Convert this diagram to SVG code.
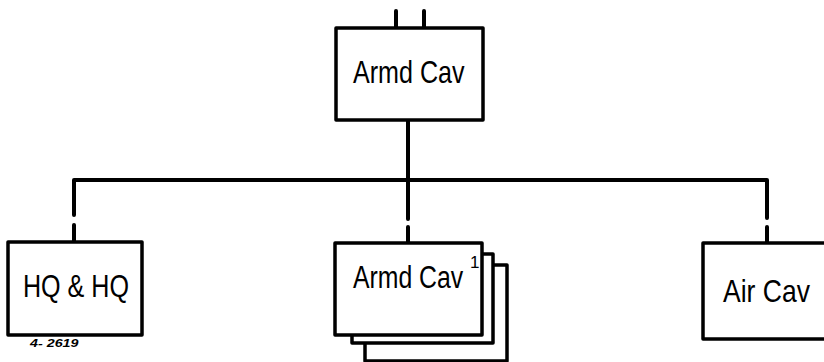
<svg xmlns="http://www.w3.org/2000/svg" width="824" height="362" viewBox="0 0 824 362">
<style>
.box{fill:#fff;stroke:#000;stroke-width:3.5;stroke-linejoin:round}
.ln{fill:none;stroke:#000;stroke-width:4;stroke-linecap:round;stroke-linejoin:round}
.lbl{font-family:"Liberation Sans",Arial,sans-serif;font-size:31px;fill:#000}
.sup{font-family:"Liberation Sans",Arial,sans-serif;font-size:17px;fill:#000}
.hw{font-family:"Liberation Sans",Arial,sans-serif;font-size:11px;font-style:italic;font-weight:bold;fill:#000}
</style>
<rect width="824" height="362" fill="#fff"/>
<g id="connectors">
<line class="ln" x1="396" y1="11" x2="396" y2="28"/>
<line class="ln" x1="424" y1="11" x2="424" y2="28"/>
<path class="ln" d="M408 120 V219"/>
<path class="ln" d="M408 227 V243"/>
<path class="ln" d="M74 215 V180 H767 V218"/>
<path class="ln" d="M74 225 V242"/>
<path class="ln" d="M767 227 V243"/>
</g>
<g id="node-top">
<rect class="box" x="336" y="28" width="147" height="92"/>
<text class="lbl" transform="translate(353,83) scale(0.81,1)">Armd Cav</text>
</g>
<g id="node-hq">
<rect class="box" x="8" y="242" width="134" height="93"/>
<text class="lbl" transform="translate(23,297) scale(0.81,1)">HQ &amp; HQ</text>
<text class="hw" transform="translate(30,347) scale(1.3,1)">4- 2619</text>
</g>
<g id="node-armd">
<rect class="box" x="365" y="265" width="142" height="96"/>
<rect class="box" x="352" y="254" width="141" height="89"/>
<rect class="box" x="335" y="243" width="147" height="92"/>
<text class="lbl" transform="translate(353,288) scale(0.80,1)">Armd Cav</text>
<text class="sup" x="470" y="268">1</text>
</g>
<g id="node-air">
<rect class="box" x="703" y="243" width="130" height="96"/>
<text class="lbl" transform="translate(723,302) scale(0.856,1)">Air Cav</text>
</g>
</svg>
